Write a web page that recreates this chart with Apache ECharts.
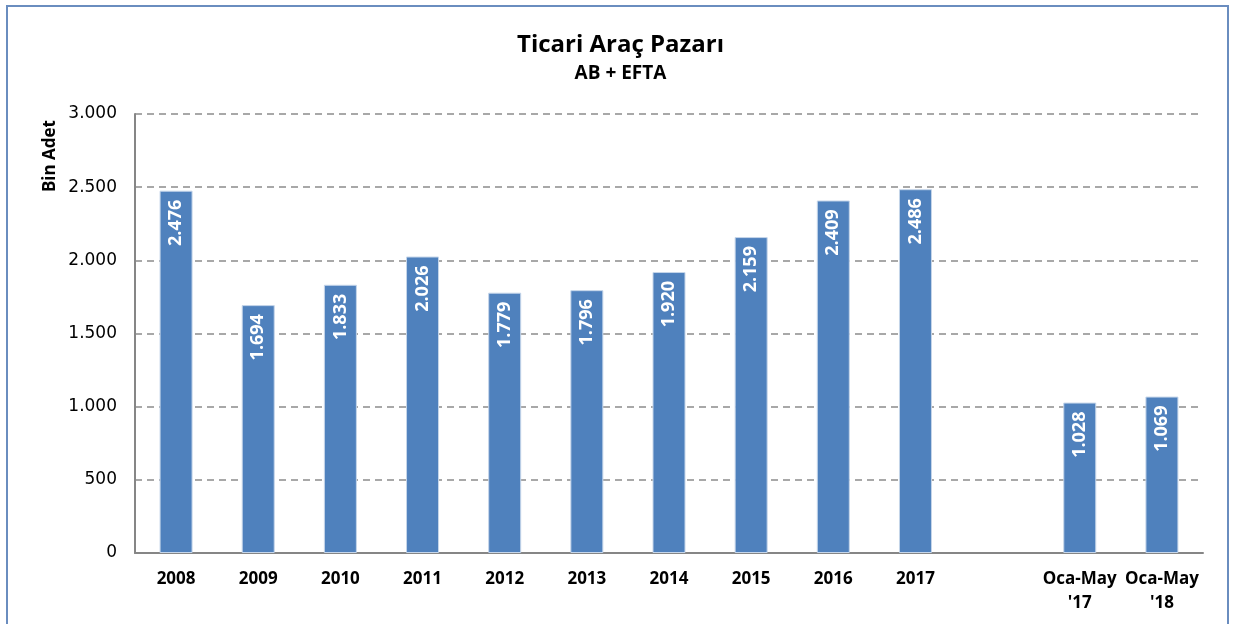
<!DOCTYPE html>
<html>
<head>
<meta charset="utf-8">
<script src="https://cdn.jsdelivr.net/npm/echarts@6/dist/echarts.min.js"></script>
<style>
  html, body { margin: 0; padding: 0; background: #fff; }
  #my_chart { width: 1241px; height: 624px; }
</style>
</head>
<body>
<div id="my_chart"></div>
<script>
// kategoriler (2017 ile Oca-May arasında boş bir sütun var)
var categories = ['2008', '2009', '2010', '2011', '2012', '2013', '2014', '2015', '2016', '2017', '', 'Oca-May\n\'17', 'Oca-May\n\'18'];
// bin adet
var values = [2476, 1694, 1833, 2026, 1779, 1796, 1920, 2159, 2409, 2486, null, 1028, 1069];
var yTicks = [0, 500, 1000, 1500, 2000, 2500, 3000];

// binlik ayırıcı nokta
function fmt(v) {
    return String(v).replace(/\B(?=(\d{3})+(?!\d))/g, '.');
}

var myChart = echarts.init(document.getElementById('my_chart'));
var option = {
    animation: false,
    title: {
        text: 'Ticari Araç Pazarı',
        subtext: 'AB + EFTA',
        left: 'center',
        top: 28,
        itemGap: 7,
        textStyle: {
            color: '#000',
            fontFamily: 'Open Sans',
            fontWeight: 'bold',
            fontSize: 24
        },
        subtextStyle: {
            color: '#000',
            fontFamily: 'Open Sans',
            fontWeight: 'bold',
            fontSize: 19
        }
    },
    graphic: [{
        type: 'rect',
        shape: {x: 7, y: 6, width: 1221, height: 660},
        style: {fill: 'none', stroke: '#6a8dbf', lineWidth: 2}
    }],
    grid: {
        left: 135,
        right: 38,
        top: 114,
        bottom: 71
    },
    xAxis: [{
        type: 'category',
        data: categories,
        axisLine: {lineStyle: {color: '#868686', width: 2}},
        axisTick: {show: false},
        axisLabel: {
            interval: 0,
            margin: 14,
            color: '#000',
            fontFamily: 'Open Sans',
            fontWeight: 'bold',
            fontSize: 17,
            lineHeight: 24
        }
    }],
    yAxis: [{
        type: 'value',
        min: yTicks[0],
        max: yTicks[yTicks.length - 1],
        interval: 500,
        name: 'Bin Adet',
        nameLocation: 'end',
        nameRotate: 90,
        nameGap: 0,
        nameTextStyle: {
            color: '#000',
            fontFamily: 'Open Sans',
            fontWeight: 'bold',
            fontSize: 17,
            align: 'right',
            verticalAlign: 'bottom',
            padding: [0, 6, 76, 0]
        },
        axisLine: {show: true, lineStyle: {color: '#868686', width: 2}},
        axisTick: {show: false},
        splitLine: {lineStyle: {color: '#8c8c8c', type: [7, 5], width: 1.5}},
        axisLabel: {
            margin: 18,
            color: '#000',
            fontFamily: 'DejaVu Sans',
            fontSize: 17,
            formatter: function (v) { return fmt(v); }
        }
    }],
    series: [{
        name: 'Bin Adet',
        type: 'bar',
        barWidth: 33,
        itemStyle: {
            color: '#4f81bd',
            borderColor: '#c6d6ea',
            borderWidth: 1
        },
        label: {
            show: true,
            position: 'insideTop',
            rotate: 90,
            align: 'right',
            verticalAlign: 'middle',
            distance: 9,
            color: '#fff',
            fontFamily: 'Open Sans',
            fontWeight: 'bold',
            fontSize: 18,
            formatter: function (p) { return fmt(p.value); }
        },
        data: values
    }]
};
myChart.setOption(option);
</script>
</body>
</html>
